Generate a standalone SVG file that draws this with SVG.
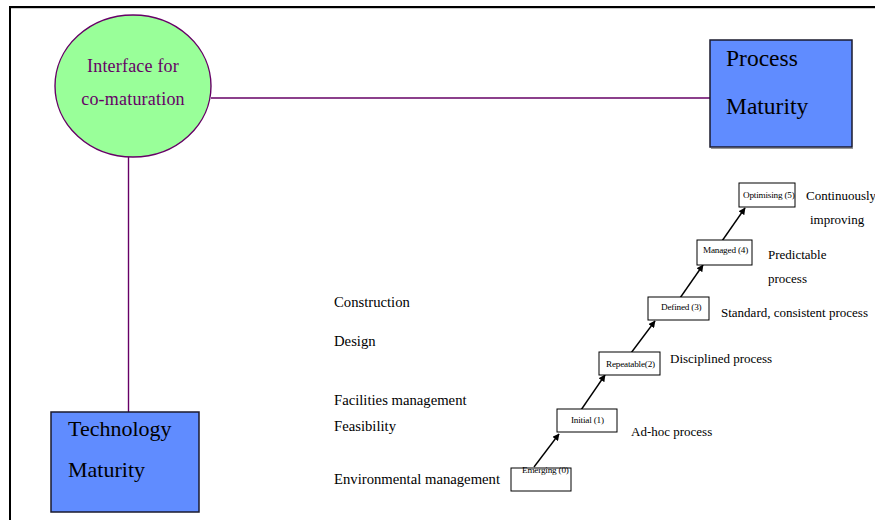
<svg xmlns="http://www.w3.org/2000/svg" width="875" height="520" viewBox="0 0 875 520" font-family="'Liberation Serif', 'Times New Roman', Tinos, serif">
  <style>
    text { font-family: "Liberation Serif", "Times New Roman", Tinos, serif; fill: #000; }
    .link { stroke: #660066; stroke-width: 1.4; fill: none; }
    .maturity { fill: #608cff; stroke: #1a1a2e; stroke-width: 1.5; }
    .big { font-size: 22px; }
    .step { fill: #fff; stroke: #000; stroke-width: 1; }
    .steplbl { font-size: 9.2px; letter-spacing: -0.2px; }
    .note { font-size: 13px; }
    .area { font-size: 14.7px; }
    .bubble { font-size: 18px; fill: #660066; letter-spacing: 0.2px; }
    .arrow { stroke: #000; stroke-width: 1.4; fill: none; marker-end: url(#head); }
  </style>
  <defs>
    <marker id="head" viewBox="0 0 10 10" refX="9" refY="5" markerWidth="5" markerHeight="5" orient="auto">
      <path d="M0,0 L10,5 L0,10 z" fill="#000"/>
    </marker>
  </defs>

  <rect width="875" height="520" fill="#fff"/>
  <!-- page frame -->
  <line x1="10" y1="8.5" x2="875" y2="8.5" stroke="#ccc" stroke-width="1"/>
  <path d="M10,520 V7 H875" fill="none" stroke="#000" stroke-width="2"/>

  <!-- connectors -->
  <g id="connectors">
    <line class="link" x1="211" y1="98" x2="710" y2="98"/>
    <line class="link" x1="128.5" y1="157" x2="128.5" y2="412"/>
    <line class="arrow" x1="534" y1="467" x2="559" y2="434"/>
    <line class="arrow" x1="581" y1="410" x2="605" y2="375"/>
    <line class="arrow" x1="631" y1="353" x2="655" y2="321"/>
    <line class="arrow" x1="680" y1="298" x2="703" y2="265"/>
    <line class="arrow" x1="722" y1="241" x2="745" y2="208"/>
  </g>

  <!-- interface ellipse -->
  <g id="interface">
    <ellipse cx="133" cy="86" rx="78" ry="71" fill="#99ff99" stroke="#660066" stroke-width="1.4"/>
    <text class="bubble" x="133" y="72" text-anchor="middle">Interface for</text>
    <text class="bubble" x="133" y="105" text-anchor="middle">co-maturation</text>
  </g>

  <!-- process maturity -->
  <g id="process-maturity">
    <line x1="711" y1="148.5" x2="853" y2="148.5" stroke="#999" stroke-width="1"/>
    <rect class="maturity" x="710" y="40" width="142" height="107"/>
    <text x="726" y="66" font-size="23.5">Process</text>
    <text x="726" y="114" font-size="23.5">Maturity</text>
  </g>

  <!-- technology maturity -->
  <g id="technology-maturity">
    <rect class="maturity" x="51" y="412" width="148" height="100"/>
    <text class="big" x="68" y="436">Technology</text>
    <text class="big" x="68" y="477">Maturity</text>
  </g>

  <!-- maturity ladder -->
  <g id="step-0">
    <rect class="step" x="511" y="468" width="60" height="23"/>
    <text class="steplbl" x="522" y="473">Emerging (0)</text>
  </g>
  <g id="step-1">
    <rect class="step" x="557" y="409" width="60" height="23"/>
    <text class="steplbl" x="571" y="423">Initial (1)</text>
  </g>
  <g id="step-2">
    <rect class="step" x="599" y="352" width="61" height="23"/>
    <text class="steplbl" x="606" y="367">Repeatable(2)</text>
  </g>
  <g id="step-3">
    <rect class="step" x="648" y="297" width="61" height="23"/>
    <text class="steplbl" x="661" y="310">Defined (3)</text>
  </g>
  <g id="step-4">
    <rect class="step" x="697" y="240" width="55" height="25"/>
    <text class="steplbl" x="703" y="253">Managed (4)</text>
  </g>
  <g id="step-5">
    <rect class="step" x="739" y="183" width="56" height="24"/>
    <text class="steplbl" x="743" y="198">Optimising (5)</text>
  </g>

  <!-- step descriptions -->
  <g id="step-notes">
    <text class="note" x="806" y="200">Continuously</text>
    <text class="note" x="810" y="224">improving</text>
    <text class="note" x="768" y="259">Predictable</text>
    <text class="note" x="768" y="283">process</text>
    <text class="note" x="721" y="317">Standard, consistent process</text>
    <text class="note" x="670" y="363">Disciplined process</text>
    <text class="note" x="631" y="436">Ad-hoc process</text>
  </g>

  <!-- application areas -->
  <g id="areas">
    <text class="area" x="334" y="307">Construction</text>
    <text class="area" x="334" y="346">Design</text>
    <text class="area" x="334" y="405">Facilities management</text>
    <text class="area" x="334" y="431">Feasibility</text>
    <text class="area" x="334" y="484">Environmental management</text>
  </g>
</svg>
